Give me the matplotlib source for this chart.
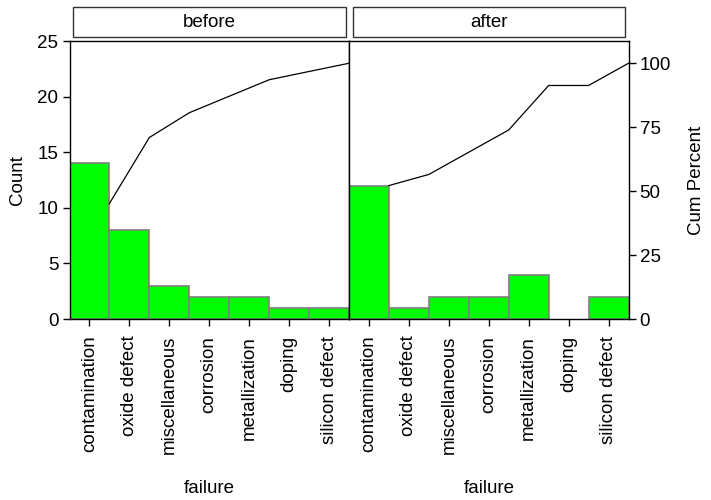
import numpy as np
import matplotlib.pyplot as plt
from matplotlib.patches import Rectangle

plt.rcParams['font.family'] = ['Liberation Sans', 'DejaVu Sans']

# data
failures = ['contamination', 'oxide defect', 'miscellaneous', 'corrosion',
            'metallization', 'doping', 'silicon defect']
panels = ['before', 'after']
before_counts = [14, 8, 3, 2, 2, 1, 1]
after_counts = [12, 1, 2, 2, 4, 0, 2]
counts = {'before': before_counts, 'after': after_counts}

W, H = 711, 500
fig = plt.figure(figsize=(W / 100, H / 100), dpi=100)

left, right, top, bottom = 69.5, 628.5, 41, 319
mid = (left + right) / 2
count_max = 25
pct_max = 100 * 25 / 23  # right axis scaling as in the reference

fs = 13.5
x = np.arange(1, len(failures) + 1)

for i, name in enumerate(panels):
    x0 = left if i == 0 else mid
    x1 = mid if i == 0 else right
    ax = fig.add_axes([x0 / W, 1 - bottom / H, (x1 - x0) / W, (bottom - top) / H])
    vals = np.array(counts[name])
    keep = vals > 0
    ax.bar(x[keep], vals[keep], width=1.0, color='#00ff00', edgecolor='#808080',
           linewidth=1.2, zorder=2)
    ax.set_xlim(0.5, len(failures) + 0.5)
    ax.set_ylim(0, count_max)
    ax.set_xticks(x)
    ax.set_xticklabels(failures, rotation=90, fontsize=fs)
    ax.tick_params(axis='x', direction='out', length=5, width=1, pad=7)
    if i == 0:
        ax.set_yticks([0, 5, 10, 15, 20, 25])
        ax.tick_params(axis='y', direction='out', length=5, width=1, labelsize=fs, pad=3)
        ax.set_ylabel('Count', fontsize=fs, labelpad=8)
    else:
        ax.set_yticks([])
    for sp in ax.spines.values():
        sp.set_linewidth(1)
        sp.set_zorder(4)
    ax.set_xlabel('failure', fontsize=fs, labelpad=19)

    # cumulative percent line, points at right edge of each bar
    cum = np.cumsum(vals) / np.sum(vals) * 100
    ax2 = ax.twinx()
    ax2.set_ylim(0, pct_max)
    ax2.plot(x + 0.5, cum, color='black', linewidth=0.9, zorder=3)
    if i == 1:
        ax2.set_yticks([0, 25, 50, 75, 100])
        ax2.tick_params(axis='y', direction='out', length=5, width=1, labelsize=fs, pad=3)
        ax2.set_ylabel('Cum Percent', fontsize=fs, labelpad=12)
    else:
        ax2.set_yticks([])
    for sp in ax2.spines.values():
        sp.set_visible(False)

    # strip label
    sx0 = x0 + 3.5
    sx1 = x1 - 3.5
    fig.patches.append(Rectangle((sx0 / W, 1 - 37 / H), (sx1 - sx0) / W, 29.5 / H,
                                 transform=fig.transFigure, facecolor='white',
                                 edgecolor='#333333', linewidth=1))
    fig.text((sx0 + sx1) / 2 / W, 1 - 22.5 / H, name, ha='center', va='center', fontsize=fs)

fig.savefig('out.png', dpi=100)
